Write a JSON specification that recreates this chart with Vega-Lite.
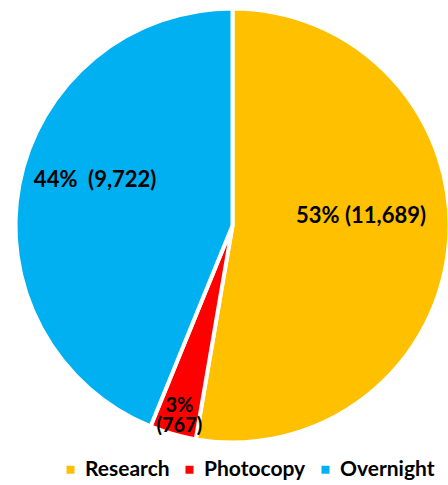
{
  "$schema": "https://vega.github.io/schema/vega-lite/v6.json",
  "width": 465,
  "height": 451,
  "padding": {"left": 0, "top": 0, "right": 0, "bottom": 34},
  "autosize": "none",
  "background": "white",
  "config": {"view": {"stroke": null}, "font": "Lato"},
  "data": {"values": [
    {"category": "Research", "count": 11689, "rank": 1, "label": "53% (11,689)"},
    {"category": "Photocopy", "count": 767, "rank": 2, "label": "3%\n(767)"},
    {"category": "Overnight", "count": 9722, "rank": 3, "label": "44%\u00a0 (9,722)"}
  ]},
  "encoding": {
    "theta": {"field": "count", "type": "quantitative", "stack": true},
    "order": {"field": "rank", "type": "quantitative"}
  },
  "layer": [
    {
      "mark": {"type": "arc", "outerRadius": 217, "stroke": "white", "strokeWidth": 4},
      "encoding": {
        "color": {
          "field": "category", "type": "nominal",
          "scale": {"domain": ["Research", "Photocopy", "Overnight"], "range": ["#FFC000", "#FF0000", "#00B0F0"]},
          "legend": {
            "title": null, "orient": "none", "direction": "horizontal",
            "legendX": 60, "legendY": 459,
            "symbolType": "square", "symbolSize": 64, "symbolStrokeWidth": 0,
            "labelFont": "Lato", "labelFontSize": 21, "labelFontWeight": "bold", "labelColor": "black",
            "labelOffset": 4, "columnPadding": 9, "labelLimit": 0
          }
        }
      }
    },
    {
      "mark": {"type": "text", "radius": 129, "dy": -20, "fontSize": 22, "fontWeight": "bold", "font": "Lato", "color": "black"},
      "encoding": {"text": {"condition": {"test": "datum.category == 'Research'", "field": "label"}, "value": ""}}
    },
    {
      "mark": {"type": "text", "radius": 140, "dy": -19, "fontSize": 22, "fontWeight": "bold", "font": "Lato", "color": "black"},
      "encoding": {"text": {"condition": {"test": "datum.category == 'Overnight'", "field": "label"}, "value": ""}}
    },
    {
      "mark": {"type": "text", "radius": 193, "dy": -5, "lineBreak": "\n", "lineHeight": 20, "fontSize": 20, "fontWeight": "bold", "font": "Lato", "color": "black"},
      "encoding": {"text": {"condition": {"test": "datum.category == 'Photocopy'", "field": "label"}, "value": ""}}
    }
  ]
}
